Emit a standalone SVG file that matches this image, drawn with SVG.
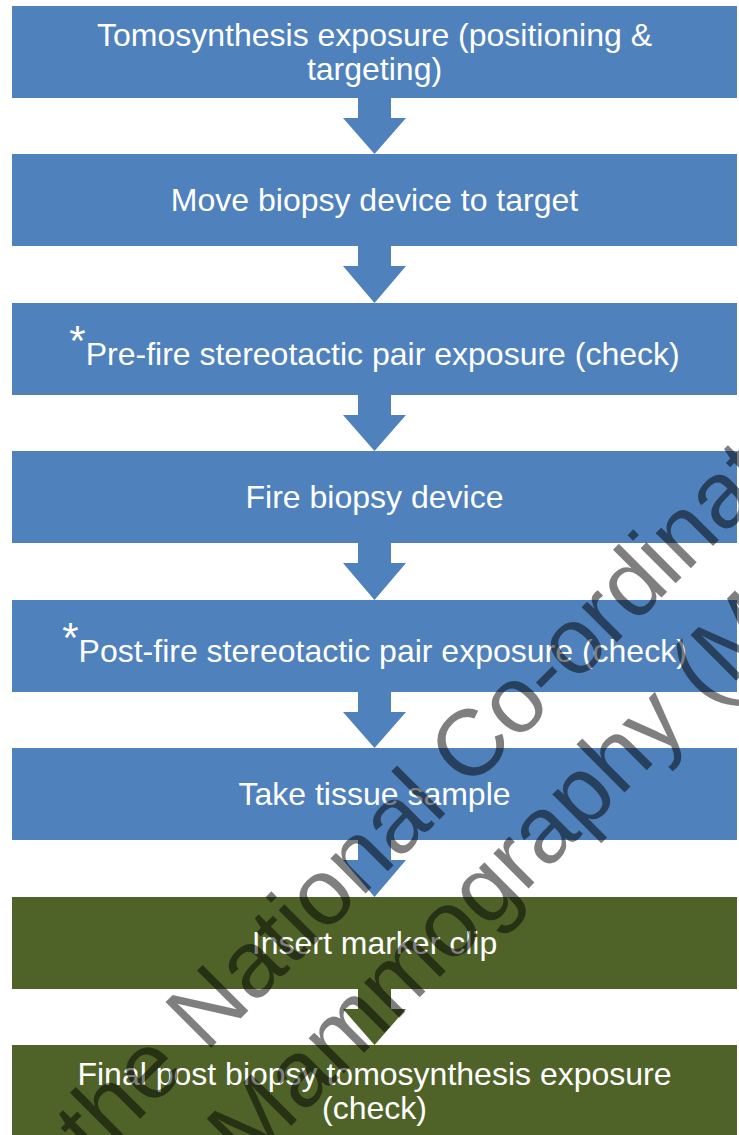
<svg xmlns="http://www.w3.org/2000/svg" width="739" height="1135" viewBox="0 0 739 1135">
  <style>
    .blue { fill: #4F81BD; }
    .green { fill: #4F6228; }
    .lbl { font-family: "Liberation Sans", Arial, sans-serif; font-size: 32px; fill: #FFFFFF; text-anchor: middle; }
    .ast { font-size: 42px; }
    .wm { font-family: "Liberation Sans", Arial, sans-serif; font-size: 94px; fill: #000000; fill-opacity: 0.5; }
  </style>
  <rect width="739" height="1135" fill="#FFFFFF"/>
  <g id="connectors">
    <path class="blue" d="M358,98 L391,98 L391,118 L406,118 L374.5,154 L343,118 L358,118 Z"/>
    <path class="blue" d="M358,246 L391,246 L391,266 L406,266 L374.5,303 L343,266 L358,266 Z"/>
    <path class="blue" d="M358,395 L391,395 L391,415 L406,415 L374.5,451 L343,415 L358,415 Z"/>
    <path class="blue" d="M358,543 L391,543 L391,563 L406,563 L374.5,600 L343,563 L358,563 Z"/>
    <path class="blue" d="M358,692 L391,692 L391,712 L406,712 L374.5,748 L343,712 L358,712 Z"/>
    <path class="blue" d="M358,840 L391,840 L391,860 L406,860 L374.5,897 L343,860 L358,860 Z"/>
    <path class="green" d="M358,989 L391,989 L391,1009 L406,1009 L374.5,1045 L343,1009 L358,1009 Z"/>
  </g>
  <g id="n1">
    <rect class="blue" x="12" y="6" width="725" height="92"/>
    <text class="lbl" x="374.5" y="46">Tomosynthesis exposure (positioning &amp;</text>
    <text class="lbl" x="374.5" y="80">targeting)</text>
  </g>
  <g id="n2">
    <rect class="blue" x="12" y="154" width="725" height="92"/>
    <text class="lbl" x="374.5" y="211">Move biopsy device to target</text>
  </g>
  <g id="n3">
    <rect class="blue" x="12" y="303" width="725" height="92"/>
    <text class="lbl" x="374.5" y="365"><tspan class="ast" dy="-10">*</tspan><tspan dy="10">Pre-fire stereotactic pair exposure (check)</tspan></text>
  </g>
  <g id="n4">
    <rect class="blue" x="12" y="451" width="725" height="92"/>
    <text class="lbl" x="374.5" y="508">Fire biopsy device</text>
  </g>
  <g id="n5">
    <rect class="blue" x="12" y="600" width="725" height="92"/>
    <text class="lbl" x="374.5" y="662"><tspan class="ast" dy="-10">*</tspan><tspan dy="10">Post-fire stereotactic pair exposure (check)</tspan></text>
  </g>
  <g id="n6">
    <rect class="blue" x="12" y="748" width="725" height="92"/>
    <text class="lbl" x="374.5" y="805">Take tissue sample</text>
  </g>
  <g id="n7">
    <rect class="green" x="12" y="897" width="725" height="92"/>
    <text class="lbl" x="374.5" y="954">Insert marker clip</text>
  </g>
  <g id="n8">
    <rect class="green" x="12" y="1045" width="725" height="92"/>
    <text class="lbl" x="374.5" y="1085">Final post biopsy tomosynthesis exposure</text>
    <text class="lbl" x="374.5" y="1119">(check)</text>
  </g>
  <g id="watermark">
    <text class="wm" transform="translate(95,1164) rotate(-45)">the National Co-ordinat</text>
    <text class="wm" transform="translate(210,1207) rotate(-45)">f Mammography (M</text>
  </g>
</svg>
